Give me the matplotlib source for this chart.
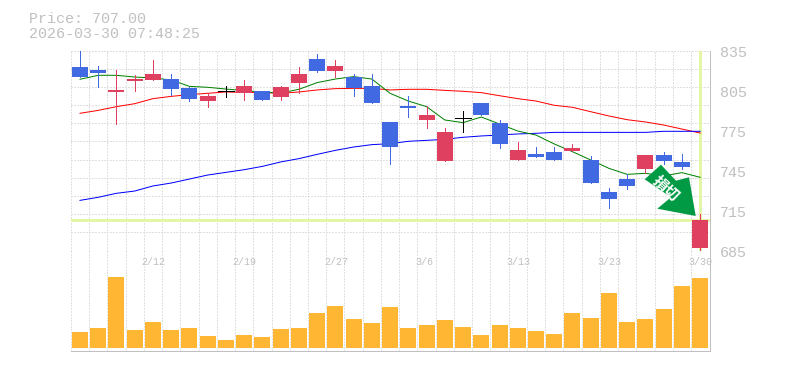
import numpy as np
import matplotlib
matplotlib.use("Agg")
import matplotlib.pyplot as plt
from matplotlib.patches import Polygon

opens = [822.6, 820.4, 803.9, 812.1, 812.9, 813.6, 806.9, 797.1, 805.0, 803.1, 804.6, 800.1,
         810.6, 828.6, 819.6, 815.1, 808.4, 781.4, 793.4, 782.9, 752.1, 784.4, 795.6, 780.6,
         752.9, 757.4, 758.9, 759.6, 752.9, 728.9, 738.6, 746.1, 756.6, 751.4, 687.1]
highs = [835.4, 823.4, 820.4, 816.6, 827.9, 817.4, 807.6, 803.1, 808.4, 812.9, 804.6, 808.4,
         822.6, 832.4, 827.9, 817.4, 817.4, 781.4, 800.9, 793.4, 776.9, 789.6, 795.6, 782.9,
         766.4, 762.6, 762.6, 764.9, 755.9, 731.9, 742.4, 756.6, 758.9, 757.4, 712.4]
lows = [815.1, 807.6, 779.9, 804.6, 812.9, 801.6, 797.1, 792.6, 800.1, 797.9, 797.9, 797.9,
        803.1, 818.9, 815.1, 800.9, 795.6, 749.9, 785.1, 776.9, 752.1, 773.9, 786.6, 761.9,
        752.9, 755.1, 752.9, 759.6, 735.6, 716.9, 731.1, 743.1, 749.9, 746.1, 684.9]
closes = [815.1, 818.1, 805.4, 813.6, 817.4, 806.1, 798.6, 800.9, 805.0, 808.4, 797.9, 807.6,
          817.4, 819.6, 823.4, 806.9, 795.6, 762.6, 791.9, 786.6, 773.9, 784.4, 786.6, 764.9,
          760.4, 755.1, 752.9, 761.9, 735.6, 723.6, 733.4, 756.6, 752.1, 747.6, 707.8]

ma_short = [813.4, 816.4, 816.4, 815.1, 814.4, 812.9, 808.1, 807.4, 806.1, 804.9, 803.9, 803.1,
            805.9, 810.9, 813.6, 815.4, 813.6, 802.9, 797.1, 792.9, 782.9, 780.9, 785.1, 779.9,
            774.6, 771.6, 764.9, 759.1, 752.9, 746.6, 742.1, 742.9, 740.9, 743.4, 739.9]
ma_mid = [787.9, 790.1, 792.9, 795.1, 798.9, 800.6, 801.9, 802.9, 803.9, 803.6, 803.4, 802.9,
          803.9, 805.4, 806.4, 806.6, 806.6, 805.4, 805.9, 805.9, 805.1, 804.4, 803.4, 801.1,
          798.9, 797.1, 793.9, 792.4, 789.1, 785.9, 783.1, 781.4, 779.1, 776.1, 773.1]
ma_long = [722.6, 724.9, 727.9, 729.6, 733.4, 735.6, 738.6, 741.6, 743.6, 745.6, 748.1, 751.4,
           753.9, 757.1, 760.1, 762.6, 764.4, 765.1, 766.9, 767.6, 768.4, 769.9, 770.9, 771.6,
           772.4, 772.9, 773.6, 773.6, 773.6, 773.6, 773.6, 773.6, 774.4, 774.4, 774.4]
volumes = [16, 20, 71, 18, 26, 18, 20, 12, 8, 13, 11, 19, 20, 35, 42, 29, 25, 41,
           20, 23, 28, 21, 13, 23, 20, 17, 14, 35, 30, 55, 26, 29, 39, 62, 70]

price_ticks = [835, 805, 775, 745, 715, 685]
date_pos = [4, 9, 14, 19, 24, 29, 34]
date_labels = ["2/12", "2/19", "2/27", "3/6", "3/13", "3/23", "3/30"]
last_price = 707.8

W, H = 785, 370
GRAY = "#c0c0c0"
GRID = "#e0e0e0"
BLUE = "#4169e1"
RED = "#e04060"
PX = 72 / 100  # one pixel in points
THIN = PX * 0.6

plt.rcParams["lines.antialiased"] = False
plt.rcParams["patch.antialiased"] = False
plt.rcParams["font.family"] = ["Liberation Mono", "DejaVu Sans Mono"]


def axes_at(left, top, right, bottom):
    return fig.add_axes([left / W, 1 - bottom / H, (right - left) / W, (bottom - top) / H])


fig = plt.figure(figsize=(W / 100, H / 100), dpi=100)
ax = axes_at(70.5, 50.5, 710, 250.5)
vol = axes_at(70.5, 250.5, 710, 350.5)

x = np.arange(len(closes))
for a in (ax, vol):
    a.set_xlim(-0.52, 34.54)
    a.set_xticks(np.arange(35) - 0.5)
    a.tick_params(length=0, labelbottom=False, labelleft=False)
    a.set_axisbelow(True)
    a.grid(True, axis="x", color=GRID, lw=PX, ls=(0, (2, 2)))
    for side in ("top", "left"):
        a.spines[side].set_visible(False)
    for side in ("right", "bottom"):
        a.spines[side].set_color(GRAY)
        a.spines[side].set_linewidth(PX)
        a.spines[side].set_antialiased(True)

ax.set_ylim(685, 835)
ax.set_yticks(np.linspace(685, 835, 12))
ax.grid(True, axis="y", color=GRID, lw=PX, ls=(0, (2, 2)))
vol.set_ylim(-2.5, 97.5)
vol.set_yticks([])

# current price markers
ax.axhline(last_price, color="#e4f5a6", lw=3 * PX, zorder=1.5)
ax.axvline(x[-1], color="#e4f5a6", lw=3 * PX, zorder=1.5)

# moving averages, smoothed edges keep them one pixel wide
ax.plot(x, ma_mid, color="#ff0000", lw=PX, antialiased=True, zorder=2)
ax.plot(x, ma_long, color="#0000ff", lw=PX, antialiased=True, zorder=2)
ax.plot(x, ma_short, color="#008000", lw=PX, antialiased=True, zorder=2)

# candles
for i in x:
    o, c = opens[i], closes[i]
    if o == c:
        col = "black"
    elif c > o:
        col = RED
    else:
        col = BLUE
    ax.vlines(i, lows[i], highs[i], color=col, lw=THIN, zorder=3)
    if o == c:
        ax.hlines(o, i - 0.44, i + 0.44, color=col, lw=THIN, zorder=4)
    else:
        ax.bar(i, abs(c - o), bottom=min(o, c), width=0.877, color=col, lw=0, zorder=4)

vol.bar(x, volumes, width=0.877, color="#ffb733", lw=0, zorder=3)

for t in price_ticks:
    ax.annotate(str(t), xy=(1, t), xycoords=("axes fraction", "data"), xytext=(10, -2.5),
                textcoords="offset pixels", color=GRAY, fontsize=15 * PX, va="center", ha="left",
                annotation_clip=False)
for p, lab in zip(date_pos, date_labels):
    vol.annotate(lab, xy=(p, 1), xycoords=("data", "axes fraction"), xytext=(-11.5, -11.5),
                 textcoords="offset pixels", color=GRAY, fontsize=10 * PX, va="center", ha="left",
                 annotation_clip=False)

fig.text(29.3 / W, 1 - 22.7 / H, "Price: 707.00", color=GRAY, fontsize=15 * PX, va="baseline")
fig.text(29.3 / W, 1 - 37.7 / H, "2026-03-30 07:48:25", color=GRAY, fontsize=15 * PX, va="baseline")

# sell signal arrow
arrow_px = [(644.7, 179.3), (661, 164.7), (676, 180.7), (689, 177.3),
            (695.7, 216), (657.3, 208.7), (671, 197.3)]
arrow_fig = [(px / W, 1 - py / H) for px, py in arrow_px]
fig.add_artist(Polygon(arrow_fig, closed=True, transform=fig.transFigure, facecolor="#009944",
                       edgecolor="none", antialiased=True, zorder=10))
fig.text(666.3 / W, 1 - 188 / H, "損切", color="white", fontsize=15 * PX, fontweight="bold",
         family=["Noto Sans CJK JP"], rotation=-42, rotation_mode="anchor",
         ha="center", va="center", zorder=11)

fig.savefig("out.png", dpi=100)
